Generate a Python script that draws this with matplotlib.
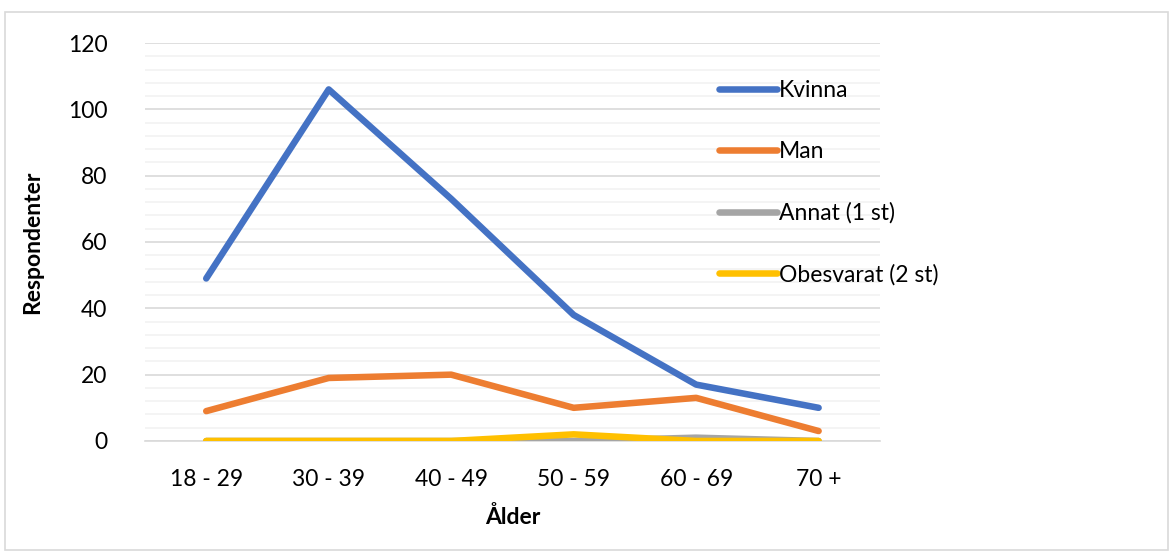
import matplotlib.pyplot as plt
from matplotlib.patches import Rectangle
from matplotlib.ticker import MultipleLocator

plt.rcParams['font.family'] = ['Lato', 'DejaVu Sans']

ages = ["18 - 29", "30 - 39", "40 - 49", "50 - 59", "60 - 69", "70 +"]
kvinna = [49, 106, 73, 38, 17, 10]
man = [9, 19, 20, 10, 13, 3]
annat = [0, 0, 0, 0, 1, 0]
obesvarat = [0, 0, 0, 2, 0, 0]

fs = 16.5

fig = plt.figure(figsize=(11.73, 5.57), dpi=100)
fig.patches.append(Rectangle((0.004, 0.013), 0.992, 0.966, transform=fig.transFigure,
                             fill=False, edgecolor="#d9d9d9", linewidth=1.2))
ax = fig.add_axes([0.1236, 0.2083, 0.6265, 0.7145])

x = range(len(ages))
lw = 4.7
ax.plot(x, kvinna, color="#4472c4", lw=lw, solid_capstyle="round", solid_joinstyle="round", label="Kvinna", zorder=5)
ax.plot(x, man, color="#ed7d31", lw=lw, solid_capstyle="round", solid_joinstyle="round", label="Man", zorder=4)
ax.plot(x, annat, color="#a5a5a5", lw=lw, solid_capstyle="round", solid_joinstyle="round", label="Annat (1 st)", zorder=3)
ax.plot(x, obesvarat, color="#ffc000", lw=lw, solid_capstyle="round", solid_joinstyle="round", label="Obesvarat (2 st)", zorder=3)

ax.set_xlim(-0.5, len(ages) - 0.5)
ax.set_ylim(0, 120)
ax.yaxis.set_major_locator(MultipleLocator(20))
ax.yaxis.set_minor_locator(MultipleLocator(4))
ax.grid(which="major", axis="y", color="#d9d9d9", lw=1.2)
ax.grid(which="minor", axis="y", color="#f2f2f2", lw=1.2)
ax.set_axisbelow(True)
for s in ["top", "right", "left"]:
    ax.spines[s].set_visible(False)
ax.spines["bottom"].set_color("#d9d9d9")
ax.spines["bottom"].set_linewidth(1.2)
ax.tick_params(which="both", length=0)
ax.tick_params(axis="y", pad=27, labelsize=fs)
ax.tick_params(axis="x", pad=20, labelsize=fs)
ax.set_xticks(list(x))
ax.set_xticklabels(ages)

ax.set_ylabel("Respondenter", fontsize=fs, fontweight="bold", labelpad=18)
ax.set_xlabel("Ålder", fontsize=fs, fontweight="bold", labelpad=12)

ax.legend(loc="upper left", bbox_to_anchor=(0.769, 0.93), frameon=False, fontsize=fs,
          handlelength=2.5, handletextpad=0.1, labelspacing=1.75, borderaxespad=0)

fig.savefig("out.png", dpi=100)
